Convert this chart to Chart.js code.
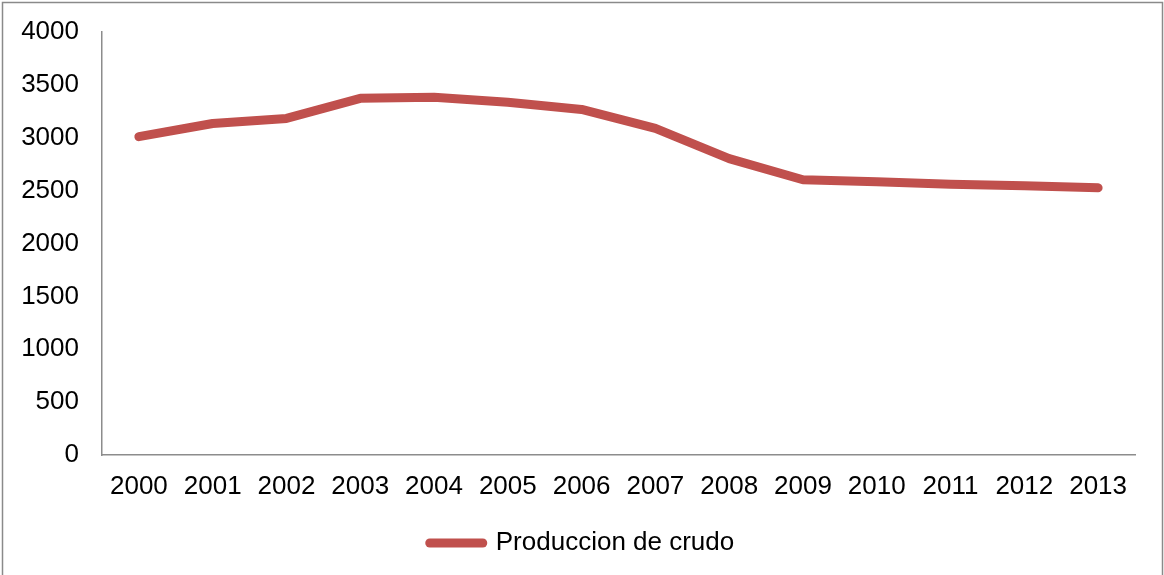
<!DOCTYPE html>
<html>
<head>
<meta charset="utf-8">
<script src="https://cdn.jsdelivr.net/npm/chart.js@4/dist/chart.umd.min.js"></script>
<style>
  html, body { margin: 0; padding: 0; background: #fff; }
  #wrap { position: relative; width: 1164px; height: 575px; }
</style>
</head>
<body>
<div id="wrap"><canvas id="c" width="1164" height="575"></canvas></div>
<script>
const categories = ['2000','2001','2002','2003','2004','2005','2006','2007','2008','2009','2010','2011','2012','2013'];
const seriesName = 'Produccion de crudo';
const seriesValues = [3010, 3135, 3183, 3373, 3382, 3335, 3268, 3088, 2803, 2603, 2584, 2560, 2546, 2527];
const yMin = 0, yMax = 4000, yStep = 500;

const FONT = "'Liberation Sans', Arial, sans-serif";
const RED = '#C0504D';
const AXIS = '#8c8c8c';

const frame = {
  id: 'frame',
  beforeDraw(chart) {
    const ctx = chart.ctx;
    ctx.save();
    ctx.fillStyle = '#fff';
    ctx.fillRect(0, 0, chart.width, chart.height);
    ctx.strokeStyle = '#8a8a8a';
    ctx.lineWidth = 1.5;
    ctx.strokeRect(2.5, 2.5, 1160, 590);
    ctx.restore();
  }
};

new Chart(document.getElementById('c'), {
  type: 'line',
  data: {
    labels: categories,
    datasets: [{
      label: seriesName,
      data: seriesValues,
      borderColor: RED,
      backgroundColor: RED,
      borderWidth: 9,
      borderCapStyle: 'round',
      borderJoinStyle: 'round',
      pointRadius: 0,
      pointHoverRadius: 0,
      tension: 0,
      fill: false
    }]
  },
  options: {
    responsive: false,
    animation: false,
    devicePixelRatio: 1,
    layout: { padding: { left: 0, top: 32, right: 0, bottom: 9 } },
    plugins: {
      tooltip: { enabled: false },
      legend: {
        position: 'bottom',
        labels: {
          usePointStyle: true,
          pointStyle: 'line',
          pointStyleWidth: 53,
          color: '#000',
          font: { family: FONT, size: 26 },
          padding: 10,
          generateLabels(chart) {
            const items = Chart.defaults.plugins.legend.labels.generateLabels(chart);
            items.forEach(it => {
              it.pointStyle = 'line';
              it.lineCap = 'round';
              it.lineWidth = 9;
              it.strokeStyle = RED;
              it.fillStyle = RED;
            });
            return items;
          }
        }
      }
    },
    scales: {
      x: {
        offset: true,
        grid: { display: false, drawTicks: false },
        border: { display: true, color: AXIS, width: 1.5 },
        ticks: { color: '#000', font: { family: FONT, size: 26 }, padding: 16, maxRotation: 0, autoSkip: false },
        afterFit(scale) { scale.height = 65; }
      },
      y: {
        min: yMin, max: yMax,
        grid: { display: true, drawOnChartArea: false, drawTicks: true, tickLength: 23,
                color: 'rgba(0,0,0,0)', tickColor: 'rgba(0,0,0,0)' },
        border: { display: true, color: AXIS, width: 1.5 },
        ticks: { stepSize: yStep, color: '#000', font: { family: FONT, size: 26 }, padding: 0,
                 callback: v => String(v) },
        afterFit(scale) { scale.width = 102; }
      },
      yRightSpace: {
        type: 'linear',
        position: 'right',
        display: true,
        grid: { display: false, drawTicks: false },
        border: { display: false },
        ticks: { display: false },
        afterFit(scale) { scale.width = 29; }
      }
    }
  },
  plugins: [frame]
});
</script>
</body>
</html>
